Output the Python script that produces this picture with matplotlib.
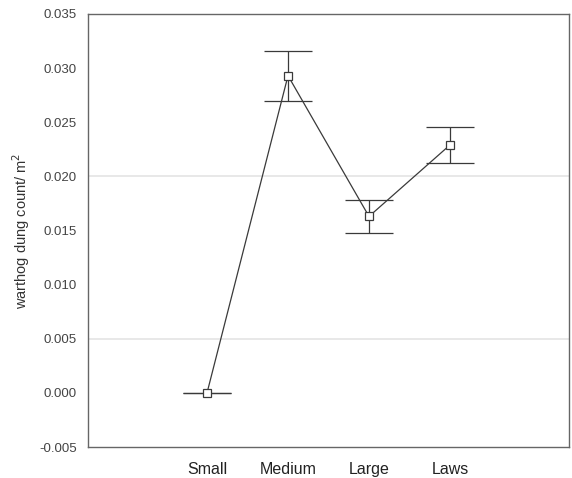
import numpy as np
import matplotlib.pyplot as plt

plt.rcParams['font.family'] = ['Liberation Sans', 'DejaVu Sans']

# mean warthog dung count per m2 by patch size, with +/- error
categories = ["Small", "Medium", "Large", "Laws"]
means = [0.0000, 0.0293, 0.0163, 0.0229]
errors = [0.0000, 0.0023, 0.0015, 0.0017]
yticks = [-0.005, 0.000, 0.005, 0.010, 0.015, 0.020, 0.025, 0.030, 0.035]

fig = plt.figure(figsize=(5.72, 4.78), dpi=100)
ax = fig.add_axes([88 / 572, 31 / 478, 481 / 572, 433 / 478])

x = np.arange(len(categories))
ax.errorbar(x, means, yerr=errors, color="#3a3a3a", lw=0.9, elinewidth=0.9,
            capsize=17, capthick=0.9, marker="s", ms=5.5, mfc="white",
            mec="#3a3a3a", mew=0.9)

# faint horizontal reference lines
for yv in (0.005, 0.020):
    ax.axhline(yv, color="#e4e4e4", lw=1.2, zorder=0)

ax.set_xlim(-1.47, 4.47)
ax.set_ylim(-0.005, 0.035)
ax.set_xticks(x)
ax.set_xticklabels(categories, fontsize=11.5, color="#222222")
ax.set_yticks(yticks)
ax.set_yticklabels([f"{v:.3f}" for v in yticks], fontsize=9.5, color="#444444")
ax.tick_params(axis="x", length=0, pad=11)
ax.tick_params(axis="y", length=0, pad=8)
for s in ax.spines.values():
    s.set_color("#666666")
    s.set_linewidth(1.0)

ax.set_ylabel("warthog dung count/ m$^2$", fontsize=10.5, color="#333333", labelpad=5)

fig.savefig("out.png", dpi=100)
